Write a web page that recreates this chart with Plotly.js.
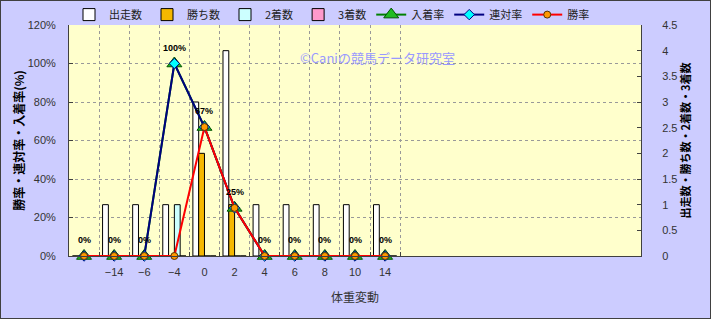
<!DOCTYPE html>
<html>
<head>
<meta charset="utf-8">
<script src="https://cdn.plot.ly/plotly-3.0.1.min.js"></script>
<style>
  html, body { margin: 0; padding: 0; background: #fff; }
  #chart { width: 709px; height: 317px; border: 1px solid #404040; }
</style>
</head>
<body>
<div id="chart"></div>
<script>
// ---- data ----
const categories = [" ", "−14", "−6", "−4", "0", "2", "4", "6", "8", "10", "14"];
const runs      = [0, 1, 1, 1, 3, 4, 1, 1, 1, 1, 1];   // 出走数
const wins      = [0, 0, 0, 0, 2, 1, 0, 0, 0, 0, 0];   // 勝ち数
const seconds   = [0, 0, 0, 1, 0, 0, 0, 0, 0, 0, 0];   // 2着数
const thirds    = [0, 0, 0, 0, 0, 0, 0, 0, 0, 0, 0];   // 3着数
const placeRate = [0, 0, 0, 100, 67, 25, 0, 0, 0, 0, 0]; // 入着率 (%)
const quinRate  = [0, 0, 0, 100, 67, 25, 0, 0, 0, 0, 0]; // 連対率 (%)
const winRate   = [0, 0, 0, 0, 67, 25, 0, 0, 0, 0, 0];   // 勝率 (%)
const rateLabels = quinRate.map(v => v + "%");

const JP = '"Noto Sans CJK JP", sans-serif';
const NUM = '"Liberation Sans", "Noto Sans CJK JP", sans-serif';

function barTrace(name, y, fill) {
  return {
    type: 'bar', name: name, x: categories, y: y,
    xaxis: 'x', yaxis: 'y',
    marker: { color: fill, line: { color: '#000000', width: 1 } },
    hoverinfo: 'skip'
  };
}
function lineTrace(name, y, lineColor, symbol, mFill, mLine, mSize) {
  return {
    type: 'scatter', mode: 'lines+markers', name: name, x: categories, y: y,
    xaxis: 'x', yaxis: 'y2', cliponaxis: false,
    line: { color: lineColor, width: 2 },
    marker: { symbol: symbol, color: mFill, size: mSize, line: { color: mLine, width: 1 } },
    hoverinfo: 'skip'
  };
}

const traces = [
  barTrace('出走数', runs, '#FFFFFF'),
  barTrace('勝ち数', wins, '#F5B800'),
  barTrace('2着数', seconds, '#CCFFFF'),
  barTrace('3着数', thirds, '#FF99CC'),
  lineTrace('入着率', placeRate, '#008000', 'triangle-up', '#22BB22', '#005500', 13),
  lineTrace('連対率', quinRate, '#000080', 'diamond', '#00FFFF', '#000080', 8),
  lineTrace('勝率', winRate, '#FF0000', 'circle', '#FF9900', '#553300', 7)
];

const annotations = categories.map((c, i) => ({
  x: i, y: quinRate[i], xref: 'x', yref: 'y2',
  text: rateLabels[i], showarrow: false, yshift: 16,
  font: { family: NUM, size: 9, color: '#000000', weight: 'bold' }
}));
annotations.push({
  xref: 'paper', yref: 'paper', x: 0.54, y: 0.909,
  text: '©Caniの競馬データ研究室', showarrow: false,
  font: { family: JP, size: 13, color: '#9999FF' }
});

const layout = {
  width: 709, height: 317,
  margin: { l: 68, r: 69, t: 24, b: 62, pad: 0, autoexpand: false },
  paper_bgcolor: '#CCCCFF',
  plot_bgcolor: '#FFFFCC',
  font: { family: JP, size: 11, color: '#333333' },
  barmode: 'group', bargap: 0.23, bargroupgap: 0,
  showlegend: true,
  legend: {
    orientation: 'h', x: 0.0, xanchor: 'left', y: 1.045, yanchor: 'middle',
    bgcolor: 'rgba(0,0,0,0)', font: { family: JP, size: 11, color: '#222222' },
    itemwidth: 30, tracegroupgap: 0
  },
  xaxis: {
    type: 'category', range: [-0.5, 18.5], tickson: 'boundaries',
    showgrid: true, gridcolor: '#999999', griddash: 'dot', gridwidth: 1,
    showline: true, linecolor: '#404040', linewidth: 1,
    ticks: 'inside', ticklen: 4, tickcolor: '#404040',
    ticklabelstandoff: 6,
    tickfont: { family: NUM, size: 11, color: '#333333' },
    title: { text: '体重変動', font: { family: JP, size: 12, color: '#333333' }, standoff: 16 },
    fixedrange: true
  },
  yaxis: {
    side: 'right', range: [0, 4.5], dtick: 0.5, tick0: 0,
    showgrid: false, zeroline: false,
    showline: true, linecolor: '#404040', linewidth: 1,
    ticks: 'inside', ticklen: 4, tickcolor: '#404040',
    ticklabelstandoff: 18,
    tickfont: { family: NUM, size: 11, color: '#333333' },
    title: { text: '出走数・勝ち数・2着数・3着数', font: { family: JP, size: 11, color: '#000000', weight: 'bold' }, standoff: 4 },
    fixedrange: true
  },
  yaxis2: {
    overlaying: 'y', side: 'left', range: [0, 120], dtick: 20, tick0: 0,
    ticksuffix: '%',
    showgrid: true, gridcolor: '#999999', griddash: 'dot', gridwidth: 1,
    zeroline: false,
    showline: true, linecolor: '#404040', linewidth: 1,
    ticks: 'inside', ticklen: 4, tickcolor: '#404040',
    ticklabelstandoff: 10,
    tickfont: { family: NUM, size: 11, color: '#333333' },
    title: { text: '勝率・連対率・入着率(%)', font: { family: JP, size: 12, color: '#000000', weight: 'bold' }, standoff: 0 },
    fixedrange: true
  },
  annotations: annotations
};

Plotly.newPlot('chart', traces, layout, { displayModeBar: false, staticPlot: true });
</script>
</body>
</html>
